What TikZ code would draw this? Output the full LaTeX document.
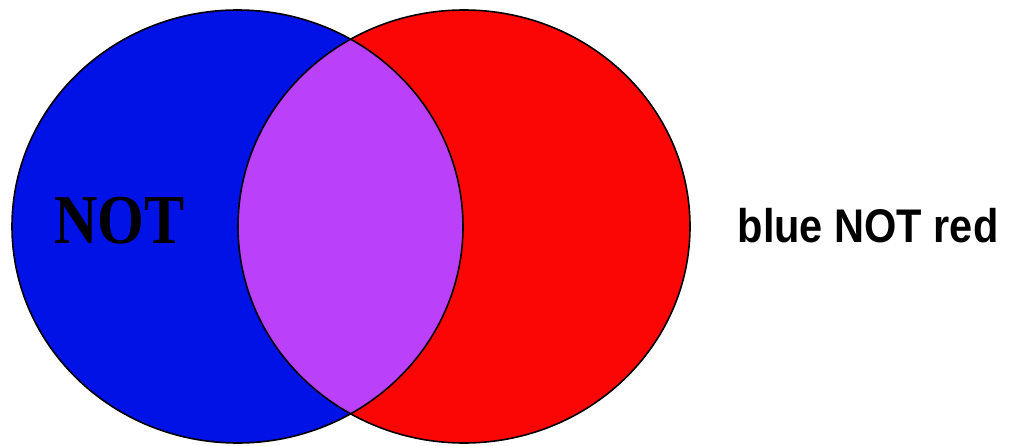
\documentclass[tikz,border=0pt]{standalone}
\usepackage{fontspec}
\usepackage{tikz}
\usetikzlibrary{positioning}
\newfontfamily\stencilfont[FakeStretch=0.86]{Liberation Serif}
\newfontfamily\capfont[FakeStretch=0.88]{Liberation Sans}
\definecolor{vnblue}{HTML}{0012E6}
\definecolor{vnred}{HTML}{FC0505}
\definecolor{vnpurple}{HTML}{BA40F9}

\begin{document}
\begin{tikzpicture}[
  x=0.5pt, y=0.5pt,
  setline/.style={draw=black, line width=0.8pt},
  bigword/.style={inner sep=0pt, font=\stencilfont\bfseries\fontsize{35}{35}\selectfont},
  caption/.style={inner sep=0pt, anchor=base, font=\capfont\bfseries\fontsize{23.6}{24}\selectfont}
]
\useasboundingbox (0,0) rectangle (1015,445);
\coordinate (bluec) at (237.5,218.5);
\coordinate (redc) at (464,218.5);
% the two sets
\fill[vnblue] (bluec) ellipse [x radius=225.5, y radius=216.5];
\fill[vnred] (redc) ellipse [x radius=226, y radius=216.5];
\begin{scope}
  \clip (bluec) ellipse [x radius=225.5, y radius=216.5];
  \fill[vnpurple] (redc) ellipse [x radius=226, y radius=216.5];
\end{scope}
\draw[setline] (bluec) ellipse [x radius=225.5, y radius=216.5];
\draw[setline] (redc) ellipse [x radius=226, y radius=216.5];
% labels
\node[bigword] (notword) at (119.5,224.5) {NOT};
\node[caption] (rule) at (868,203) {blue NOT red};
\end{tikzpicture}
\end{document}
